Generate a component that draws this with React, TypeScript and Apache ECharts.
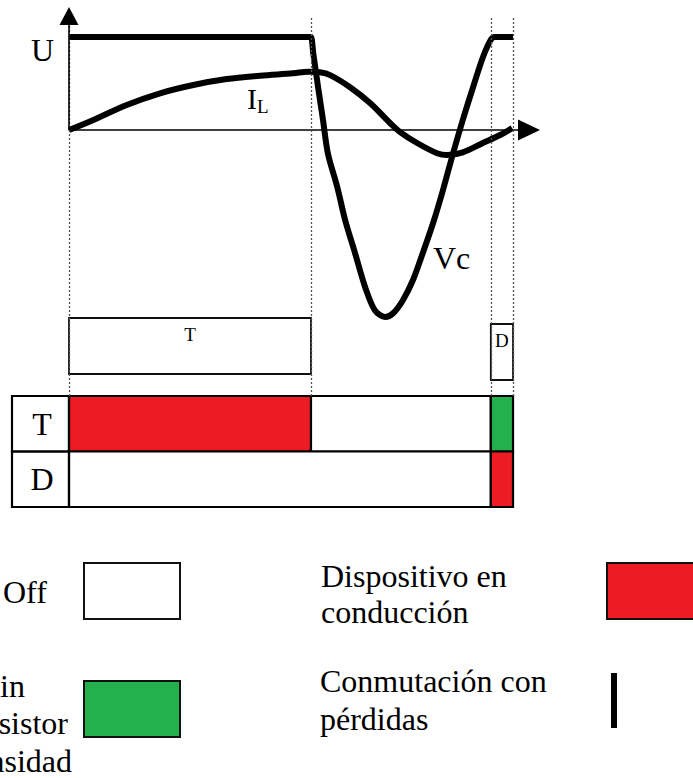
import { useEffect, useRef } from "react";
import * as echarts from "echarts";

const SERIF = "'Liberation Serif', 'Times New Roman', serif";

// Switching instants (µs): turn-off of T, diode hand-over, end of period
const switchTimes = [0, 54.5, 95, 100];

// Bus / capacitor voltage U–Vc over one period (p.u.)
const vcTimes = [0, 54, 54.5, 55.0, 56.1, 57.2, 58.3, 60.4, 62.2, 64.4, 66.7, 68.9, 71.2, 73.0, 75.2, 77.5, 79.7, 82.0, 84.2, 86.5, 88.7, 91.0, 93.2, 95.0, 95.9, 96.5, 100];
const vcValues = [1, 1, 1, 0.83, 0.46, 0.11, -0.25, -0.61, -0.97, -1.32, -1.69, -1.94, -2.01, -1.97, -1.83, -1.61, -1.32, -1.0, -0.65, -0.25, 0.11, 0.46, 0.78, 0.97, 1.0, 1.0, 1.0];

// Inductor current IL (p.u.)
const ilTimes = [0, 5.5, 13.0, 20.5, 28.0, 35.5, 43.0, 50.5, 53.9, 56.5, 58.8, 63.3, 67.8, 72.3, 74.5, 78.4, 82.9, 85.1, 88.7, 93.2, 97.1, 99.8];
const ilValues = [0, 0.108, 0.269, 0.395, 0.484, 0.548, 0.584, 0.61, 0.627, 0.62, 0.59, 0.46, 0.29, 0.075, -0.02, -0.14, -0.25, -0.27, -0.24, -0.14, -0.054, 0.02];

// Gate command intervals
const gateLabels = ["T", "D"];
const gateStart = [0, 95];
const gateEnd = [54.5, 100];

// Device state table
const deviceRows = ["T", "D"];
const stateRow = [0, 0, 0, 1, 1];
const stateStart = [0, 54.5, 95, 0, 95];
const stateEnd = [54.5, 95, 100, 95, 100];
const stateKind = ["on", "off", "zvs", "off", "on"];

const stateColors: Record<string, string> = {
  on: "#ED1C24",
  off: "#FFFFFF",
  zvs: "#22B14C",
};

const X_MAX = 103.6;
const Y_MIN = -2.86;
const Y_MAX = 1.344;

const hiddenValueAxis = (gridIndex: number, min: number, max: number) => ({
  type: "value" as const,
  gridIndex,
  min,
  max,
  axisLine: { show: false },
  axisTick: { show: false },
  axisLabel: { show: false },
  splitLine: { show: false },
});

function buildOption() {
  const vcData = vcTimes.map((t, i) => [t, vcValues[i]]);
  const ilData = ilTimes.map((t, i) => [t, ilValues[i]]);
  const tableData = stateRow.map((r, i) => [r, stateStart[i], stateEnd[i], i]);
  const gateData = gateStart.map((s, i) => [s, gateEnd[i], i]);
  const gateDrop = [0, 6];

  const text = (
    x: number,
    y: number,
    t: string,
    size: number,
    align: "left" | "right" | "center" = "left",
    vAlign: "middle" | "top" = "middle",
    lineHeight?: number
  ) => ({
    type: "text",
    x,
    y,
    silent: true,
    style: {
      text: t,
      fontFamily: SERIF,
      fontSize: size,
      fill: "#000",
      align,
      verticalAlign: vAlign,
      lineHeight: lineHeight ?? size,
    },
  });

  const box = (x: number, y: number, w: number, h: number, fill: string) => ({
    type: "rect",
    silent: true,
    shape: { x, y, width: w, height: h },
    style: { fill, stroke: "#111", lineWidth: 2 },
  });

  return {
    animation: false,
    backgroundColor: "#ffffff",
    textStyle: { fontFamily: SERIF },
    grid: [
      { left: 69, top: 5, width: 460, height: 391 },
      { left: 69, top: 318, width: 460, height: 63 },
      { left: 69, top: 396, width: 460, height: 111 },
    ],
    xAxis: [
      {
        type: "value",
        gridIndex: 0,
        min: 0,
        max: X_MAX,
        axisLine: {
          show: true,
          onZero: true,
          symbol: ["none", "triangle"],
          symbolSize: [21, 22],
          lineStyle: { color: "#000", width: 1.6 },
        },
        axisTick: { show: false },
        axisLabel: { show: false },
        splitLine: { show: false },
      },
      { ...hiddenValueAxis(1, 0, X_MAX) },
      { ...hiddenValueAxis(2, 0, X_MAX) },
    ],
    yAxis: [
      { ...hiddenValueAxis(0, Y_MIN, Y_MAX) },
      { ...hiddenValueAxis(1, 0, 1) },
      {
        type: "category",
        gridIndex: 2,
        data: deviceRows,
        inverse: true,
        z: 10,
        axisLine: { show: false },
        axisTick: { show: false },
        splitLine: { show: false },
        axisLabel: {
          show: true,
          align: "center",
          margin: 27,
          fontSize: 32,
          fontFamily: SERIF,
          color: "#000",
        },
      },
    ],
    series: [
      {
        name: "guides",
        type: "line",
        xAxisIndex: 0,
        yAxisIndex: 0,
        data: [],
        silent: true,
        markLine: {
          silent: true,
          symbol: ["none", "none"],
          label: { show: false },
          lineStyle: { type: [2, 2], color: "#555", width: 1.3 },
          data: switchTimes.map((t) => [{ coord: [t, 1.204] }, { coord: [t, Y_MIN] }]),
        },
      },
      {
        name: "axis",
        type: "line",
        xAxisIndex: 0,
        yAxisIndex: 0,
        data: [],
        silent: true,
        markLine: {
          silent: true,
          symbol: ["none", "triangle"],
          symbolSize: [19, 18],
          label: { show: false },
          lineStyle: { type: "solid", color: "#000", width: 1.6 },
          data: [[{ coord: [0, 0] }, { coord: [0, 1.226] }]],
        },
      },
      {
        name: "IL",
        type: "line",
        xAxisIndex: 0,
        yAxisIndex: 0,
        data: ilData,
        smooth: 0.35,
        symbol: "none",
        silent: true,
        lineStyle: { color: "#000", width: 6, join: "round" },
      },
      {
        name: "Vc",
        type: "line",
        xAxisIndex: 0,
        yAxisIndex: 0,
        data: vcData,
        smooth: 0.3,
        symbol: "none",
        silent: true,
        lineStyle: { color: "#000", width: 6, join: "round" },
      },
      {
        name: "gates",
        type: "custom",
        xAxisIndex: 1,
        yAxisIndex: 1,
        silent: true,
        data: gateData,
        encode: { x: [0, 1] },
        renderItem: (params: any, api: any) => {
          const i = params.dataIndex;
          const a = api.coord([api.value(0), 0]);
          const b = api.coord([api.value(1), 0]);
          const top = params.coordSys.y + gateDrop[i];
          return {
            type: "group",
            children: [
              {
                type: "rect",
                shape: { x: a[0], y: top, width: b[0] - a[0], height: 56 },
                style: { fill: "#fff", stroke: "#111", lineWidth: 1.8 },
              },
              {
                type: "text",
                x: (a[0] + b[0]) / 2,
                y: top + 16,
                style: {
                  text: gateLabels[i],
                  fontFamily: SERIF,
                  fontSize: 19,
                  fill: "#000",
                  align: "center",
                  verticalAlign: "middle",
                },
              },
            ],
          };
        },
      },
      {
        name: "states",
        type: "custom",
        xAxisIndex: 2,
        yAxisIndex: 2,
        silent: true,
        data: tableData,
        encode: { x: [1, 2], y: 0 },
        renderItem: (params: any, api: any) => {
          const row = api.value(0);
          const start = api.value(1);
          const p0 = api.coord([start, row]);
          const p1 = api.coord([api.value(2), row]);
          const h = api.size([0, 1])[1];
          const kind = stateKind[params.dataIndex];
          const children: any[] = [
            {
              type: "rect",
              shape: { x: p0[0], y: p0[1] - h / 2, width: p1[0] - p0[0], height: h },
              style: { fill: stateColors[kind], stroke: "#000", lineWidth: 2.2 },
            },
          ];
          if (start === 0) {
            children.push({
              type: "rect",
              shape: { x: p0[0] - 57, y: p0[1] - h / 2, width: 57, height: h },
              style: { fill: null, stroke: "#000", lineWidth: 2.2 },
            });
          }
          return { type: "group", children };
        },
      },
    ],
    graphic: [
      // curve annotations
      text(31, 50, "U", 32),
      text(247, 98, "I", 30),
      text(257, 106, "L", 19),
      text(433, 258, "Vc", 32),
      // legend
      text(3, 592, "Off", 32),
      box(84, 563, 96, 56, "#FFFFFF"),
      text(25, 686, "Disparo sin", 32, "right"),
      text(68, 723, "tensión en el transistor", 32, "right"),
      text(72, 761, "ni intensidad", 32, "right"),
      box(84, 681, 96, 56, "#22B14C"),
      text(321, 558, "Dispositivo en\nconducción", 32, "left", "top", 36),
      box(607, 563, 120, 56, "#ED1C24"),
      text(320, 662, "Conmutación con\npérdidas", 32, "left", "top", 38),
      {
        type: "rect",
        silent: true,
        shape: { x: 611, y: 673, width: 6, height: 55 },
        style: { fill: "#000" },
      },
    ],
  };
}

export default function App() {
  const ref = useRef<HTMLDivElement>(null);

  useEffect(() => {
    if (!ref.current) return;
    const chart = echarts.init(ref.current, undefined, { renderer: "svg" });
    chart.setOption(buildOption() as any);
    return () => chart.dispose();
  }, []);

  return (
    <div
      ref={ref}
      style={{ position: "fixed", left: 0, top: 0, width: 693, height: 778, background: "#fff" }}
    />
  );
}
